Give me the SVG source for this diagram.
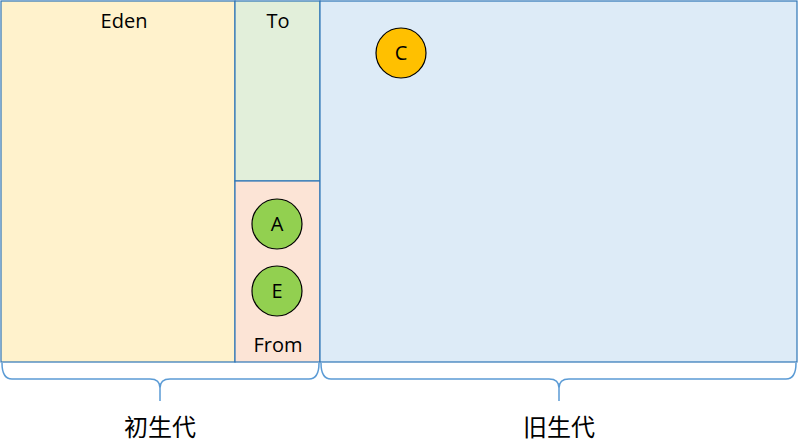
<svg xmlns="http://www.w3.org/2000/svg" width="798" height="446" viewBox="0 0 798 446">
<style>
.box{stroke:#2E75B6;stroke-width:1.2}
.lbl{font-family:"Open Sans","Noto Sans",sans-serif;font-size:20px;fill:#000;text-anchor:middle}
.cjk{font-family:"Noto Sans CJK SC",sans-serif;font-size:24px;fill:#000;text-anchor:middle}
.circ{stroke:#000;stroke-width:1.2}
.brace{fill:none;stroke:#5B9BD5;stroke-width:1.5}
</style>
<rect width="798" height="446" fill="#fff"/>
<g id="eden"><rect class="box" x="1" y="1" width="234" height="361" fill="#FFF2CC"/><text class="lbl" x="124" y="28">Eden</text></g>
<g id="to"><rect class="box" x="235" y="1" width="85" height="180" fill="#E2EFDA"/><text class="lbl" x="278" y="28">To</text></g>
<g id="from"><rect class="box" x="235" y="181" width="85" height="181" fill="#FCE4D6"/><text class="lbl" x="278" y="352">From</text></g>
<g id="old"><rect class="box" x="320" y="1" width="477" height="361" fill="#DDEBF7"/></g>
<g id="nodeC"><circle class="circ" cx="401" cy="53" r="25" fill="#FFC000"/><text class="lbl" x="401" y="60">C</text></g>
<g id="nodeA"><circle class="circ" cx="277" cy="224" r="25" fill="#92D050"/><text class="lbl" x="277" y="231">A</text></g>
<g id="nodeE"><circle class="circ" cx="277" cy="291" r="25" fill="#92D050"/><text class="lbl" x="277" y="298">E</text></g>
<g id="connectors">
<path class="brace" d="M2,363 Q2,379 12,379 H150 Q160,379 160,388 Q160,379 170,379 H309 Q319,379 319,363 M160,386 V401"/>
<path class="brace" d="M321,363 Q321,379 331,379 H549 Q559,379 559,388 Q559,379 569,379 H786 Q796,379 796,363 M559,386 V401"/>
</g>
<g id="labels"><text class="cjk" x="160" y="436">初生代</text><text class="cjk" x="559" y="436">旧生代</text></g>
</svg>
